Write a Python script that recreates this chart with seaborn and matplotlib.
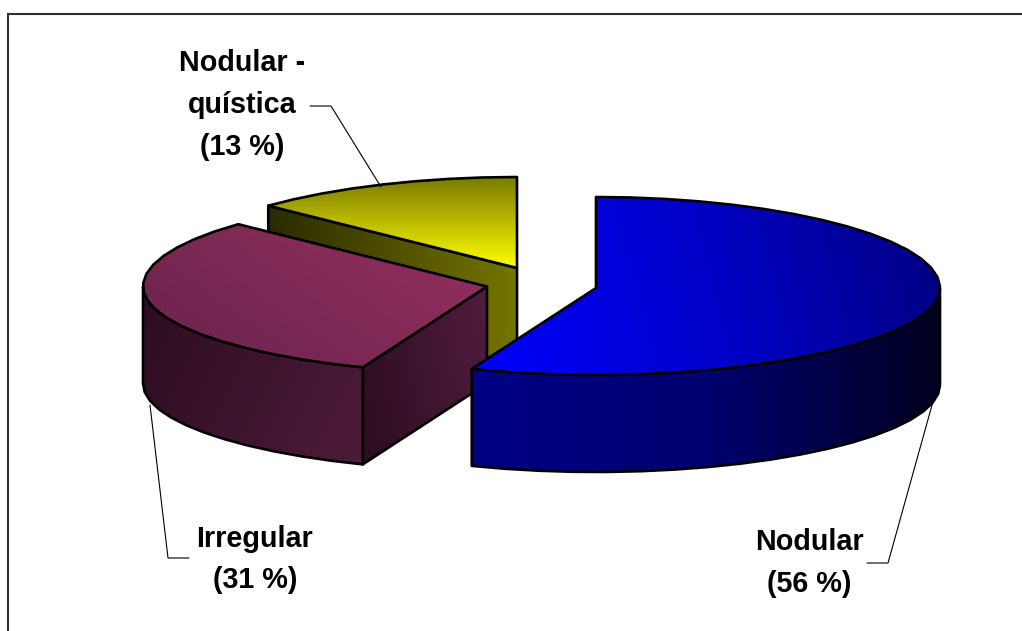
import matplotlib
matplotlib.use("Agg")
import matplotlib.pyplot as plt
import numpy as np
import seaborn as sns
from matplotlib.patches import Polygon

categories = ["Nodular -\nquística", "Irregular", "Nodular"]
shares = [13, 31, 56]

# layout in pixels of the 1022x631 picture
RX = 344
RY_BACK = 91
RY_FRONT = 87
DEPTH = 97
centers = {"Nodular": (596, 288), "Irregular": (487, 286.5), "Nodular -\nquística": (517, 268)}
label_pos = {"Nodular": (809, 563), "Irregular": (255, 559.5), "Nodular -\nquística": (242, 105)}
leaders = {
    "Nodular": ([934, 888, 867], [398, 563, 563]),
    "Irregular": ([150, 168, 189], [405, 558, 558]),
    "Nodular -\nquística": ([310, 331, 381], [106, 106, 187]),
}

sns.set_theme(style="white")
plt.rcParams["font.family"] = ["Liberation Sans", "DejaVu Sans"]

fig, ax = plt.subplots(figsize=(10.22, 6.31), dpi=100)
fig.subplots_adjust(0, 0, 1, 1)
ax.set_axis_off()


def rim(center, a0, a1):
    # angle in degrees clockwise from 12 o'clock, coarse steps like the original's faceted edge
    t = np.radians(np.linspace(a0, a1, int(abs(a1 - a0) / 6) + 2))
    s, k = np.sin(t), np.cos(t)
    rx = RX * (1 - 0.03 * (1 - np.abs(s)))
    ry = np.where(k > 0, RY_BACK, RY_FRONT)
    return np.c_[center[0] + rx * s, center[1] - ry * k]


def shaded(points, colors, direction, z, lw=1.9):
    points = np.asarray(points)
    cmap = sns.blend_palette(colors, as_cmap=True)
    x0, y0 = points.min(axis=0)
    x1, y1 = points.max(axis=0)
    xx, yy = np.meshgrid(np.linspace(0, 1, 200), np.linspace(0, 1, 200))
    grad = xx * direction[0] + yy * direction[1]
    grad = (grad - grad.min()) / (grad.max() - grad.min())
    im = ax.imshow(grad, cmap=cmap, extent=(x0, x1, y1, y0), aspect="auto", zorder=z, interpolation="bilinear")
    patch = Polygon(points, closed=True, facecolor="none", edgecolor="black", lw=lw, joinstyle="round", zorder=z + 0.1)
    ax.add_patch(patch)
    im.set_clip_path(patch)


def drop(points):
    return np.asarray(points) + [0, DEPTH]


# wedge angles follow the shares, clockwise from the top with Nodular first
a_nod = shares[2] * 3.6
a_irr = a_nod + shares[1] * 3.6

# yellow wedge, at the back
c = centers[categories[0]]
edge = rim(c, a_irr, 360)
wall = np.array([edge[0], c, drop([c])[0], drop([edge[0]])[0]])
shaded(wall, ["#2a2a00", "#757500"], (1, 0), 2)
shaded(np.vstack([[c], edge]), ["#7a7a00", "#ffff00"], (0, 1), 3)

# red wedge
c = centers[categories[1]]
edge = rim(c, a_nod, a_irr)
front = rim(c, a_nod, 270)
side = np.array([c, front[0], drop([front[0]])[0], drop([c])[0]])
shaded(side, ["#2c0d20", "#521c3e"], (1, -0.3), 4)
outer = np.vstack([front, drop(front)[::-1]])
shaded(outer, ["#2c0d20", "#4e1b39"], (1, 0.4), 5)
shaded(np.vstack([[c], edge]), ["#69234c", "#96305f"], (1, -0.6), 6)

# blue wedge, in front
c = centers[categories[2]]
edge = rim(c, 0, a_nod)
front = rim(c, 90, a_nod)
outer = np.vstack([front, drop(front)[::-1]])
shaded(outer, ["#000020", "#000070", "#000085"], (-1, 0), 7)
shaded(np.vstack([[c], edge]), ["#0000ff", "#0000c8", "#000080"], (1, -0.1), 8)

# leaders and labels
for cat, share in zip(categories, shares):
    xs, ys = leaders[cat]
    ax.plot(xs, ys, color="black", lw=0.8, zorder=10, solid_joinstyle="miter")
    ax.text(*label_pos[cat], f"{cat}\n({share} %)", ha="center", va="center", ma="center",
            fontsize=20.7, fontweight="bold", color="black", linespacing=1.62, zorder=11)

# chart area frame, open to the right and below
ax.plot([8, 8, 1022], [631, 13.5, 13.5], color="#2e2e2e", lw=1.5, zorder=1, solid_joinstyle="miter")

ax.set_xlim(0, 1022)
ax.set_ylim(631, 0)
fig.savefig("out.png", dpi=100, facecolor="white")
plt.close(fig)
